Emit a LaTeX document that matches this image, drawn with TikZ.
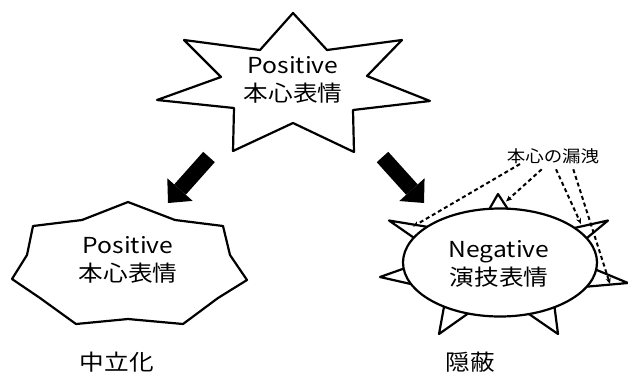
\documentclass[tikz,border=0pt]{standalone}
\usepackage{fontspec}
\newfontfamily\jp[FakeStretch=1.12]{Noto Sans CJK JP}
\usetikzlibrary{arrows.meta}
\begin{document}
\begin{tikzpicture}[x=1pt,y=-1pt,
  shapeline/.style={draw=black,line width=2.2pt,line join=round,fill=white},
  bigtxt/.style={font=\jp\fontsize{22}{28}\selectfont,align=center,inner sep=0pt},
  smalltxt/.style={font=\jp\fontsize{16.5}{20}\selectfont,inner sep=0pt},
  blockarrow/.style={line width=15.5pt,-{Triangle[length=18pt,width=34pt,line width=0pt]}},
  leak/.style={line width=2pt,dash pattern=on 4pt off 3pt,-{Stealth[length=6pt,width=5pt]}}]
\fill[white] (0,0) rectangle (628,376);
\useasboundingbox (0,0) rectangle (628,376);

% top star
\draw[shapeline] (293,13) -- (327,50) -- (402,40) -- (367,76) -- (430,101) -- (353,110)
  -- (354,152) -- (293,123) -- (233,151) -- (234,108) -- (157,100) -- (221,77)
  -- (184,40) -- (260,50) -- cycle;
\node[bigtxt] (toptext) at (293,80) {Positive\\本心表情};

% left shape
\draw[shapeline] (128,202) -- (175,220) -- (223,226) -- (230,255) -- (247,280) -- (218,298)
  -- (183,324) -- (128,319) -- (76,324) -- (40,298) -- (12,279) -- (27,255)
  -- (33,226) -- (82,220) -- cycle;
\node[bigtxt] (lefttext) at (128,260) {Positive\\本心表情};

% right shape: spikes then ellipse
\foreach \ax/\ay/\ta/\tb in {498/194/97.7/84, 389/220.5/154/137, 380/277/185/207,
  439/334/233/252, 558/334/306/286, 628/283/354/331, 608/220.5/41/25}
  \draw[shapeline] (\ax,\ay) -- ({500+92*cos(\ta)},{262.5-51*sin(\ta)})
    -- ({500+92*cos(\tb)},{262.5-51*sin(\tb)}) -- cycle;
\draw[shapeline] (500,262.5) ellipse [x radius=97, y radius=54];
\node[bigtxt] (righttext) at (499,264) {Negative\\演技表情};

% block arrows
\coordinate (la) at (209,157); \coordinate (lb) at (168,203);
\coordinate (ra) at (382.5,157); \coordinate (rb) at (424,203);
\draw[blockarrow] (la) -- (lb);
\draw[blockarrow] (ra) -- (rb);

% leak label and dashed arrows
\node[smalltxt] (leak) at (553,156) {本心の漏洩};
\coordinate (s1) at (520,164); \coordinate (e1) at (413,226.5);
\coordinate (s2) at (541.7,169.3); \coordinate (e2) at (506,201.5);
\coordinate (s3) at (556,169.3); \coordinate (e3) at (581,224);
\coordinate (s4) at (573.3,169.3); \coordinate (e4) at (610,284);
\draw[leak] (s1) -- (e1);
\draw[leak] (s2) -- (e2);
\draw[leak] (s3) -- (e3);
\draw[leak] (s4) -- (e4);

% bottom labels
\node[bigtxt] (neutral) at (116.7,362) {中立化};
\node[bigtxt] (mask) at (470,362) {隠蔽};
\end{tikzpicture}
\end{document}
